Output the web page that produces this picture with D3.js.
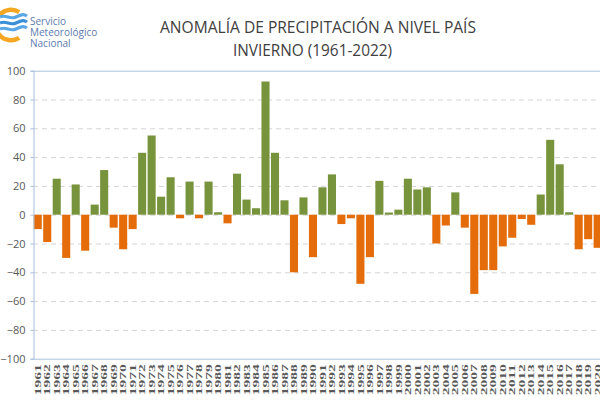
<!DOCTYPE html>
<html>
<head>
<meta charset="utf-8">
<script src="https://cdn.jsdelivr.net/npm/d3@7"></script>
<style>
  html, body { margin: 0; padding: 0; background: #fff; overflow: hidden; }
  svg { display: block; }
</style>
</head>
<body>
<svg id="chart" width="600" height="400"></svg>
<script>
// ---- Data ----
const years = d3.range(1961, 2023).map(String);
// anomaly values (%); 2021 and 2022 fall outside the visible frame
const anomalies = [
  -10, -19, 25, -30, 21, -25, 7, 31, -9, -24,
  -10, 43, 55, 12.5, 26, -2.5, 23, -2.5, 23, 1.7,
  -6, 28.5, 10.5, 4.5, 92.5, 43, 10, -40, 12, -29.5,
  19, 28, -6.5, -2.5, -48, -29.5, 23.5, 1.5, 3.5, 25,
  17.5, 19, -20, -7.5, 15.5, -9, -55, -38.5, -38.5, -22,
  -16, -3, -7, 14, 52, 35, 1.7, -24, -17, -23,
  null, null
];
const yTicks = [100, 80, 60, 40, 20, 0, -20, -40, -60, -80, -100];
const titleLines = ["ANOMALÍA DE PRECIPITACIÓN A NIVEL PAÍS", "INVIERNO (1961-2022)"];
const logoLines = ["Servicio", "Meteorológico", "Nacional"];

const data = years.map((y, i) => ({ year: y, value: anomalies[i] }));

(function () {
// ---- Layout ----
const svg = d3.select("#chart");
const plotLeft = 33, plotTop = 70.7, plotBottom = 358.7;
const step = 9.49;
const plotRight = plotLeft + step * years.length;

const x = d3.scaleBand().domain(years).range([plotLeft, plotRight]).paddingInner(0.15).paddingOuter(0.075);
const y = d3.scaleLinear().domain([-100, 100]).range([plotBottom, plotTop]);

const GREEN = "#77933C", ORANGE = "#E46C0A";
const AXIS = "#A9BEDA";

// gridlines
svg.append("g").selectAll("line")
  .data(yTicks.filter(t => t !== 100 && t !== -100))
  .join("line")
  .attr("x1", plotLeft).attr("x2", 600)
  .attr("y1", d => y(d) + 0.5).attr("y2", d => y(d) + 0.5)
  .attr("stroke", "#D4D4D4").attr("stroke-width", 1)
  .attr("stroke-dasharray", "5,4");

// top and bottom frame lines
svg.append("g").selectAll("line")
  .data([100, -100])
  .join("line")
  .attr("x1", plotLeft).attr("x2", 600)
  .attr("y1", d => y(d) + 0.5).attr("y2", d => y(d) + 0.5)
  .attr("stroke", AXIS).attr("stroke-width", 1);

// bars
svg.append("g").selectAll("rect")
  .data(data.filter(d => d.value !== null))
  .join("rect")
  .attr("x", d => x(d.year))
  .attr("width", x.bandwidth())
  .attr("y", d => y(Math.max(0, d.value)))
  .attr("height", d => Math.abs(y(d.value) - y(0)))
  .attr("fill", d => d.value >= 0 ? GREEN : ORANGE);

// y axis
const yAxis = svg.append("g")
  .attr("transform", `translate(${plotLeft + 0.5},0)`)
  .call(d3.axisLeft(y).tickValues(yTicks).tickSize(3).tickPadding(5).tickFormat(d3.format("d")));
yAxis.select(".domain").attr("stroke", AXIS);
yAxis.selectAll(".tick line").attr("stroke", AXIS);
yAxis.selectAll(".tick text")
  .attr("fill", "#595959")
  .style("font-family", "'Open Sans', 'Liberation Sans', sans-serif")
  .style("font-size", "11px");

// x axis labels (rotated)
const xAxis = svg.append("g")
  .attr("transform", `translate(0,${plotBottom + 0.5})`)
  .call(d3.axisBottom(x).tickSize(0).tickPadding(0));
xAxis.select(".domain").remove();
xAxis.selectAll(".tick text")
  .attr("transform", "translate(0,5) rotate(-90)")
  .attr("x", 0).attr("y", 0).attr("dy", "0.35em")
  .attr("text-anchor", "end")
  .attr("textLength", 31)
  .attr("lengthAdjust", "spacingAndGlyphs")
  .attr("fill", "#595959")
  .style("font-family", "'Liberation Serif', serif")
  .style("font-weight", "bold")
  .style("font-size", "9px");

// title
svg.append("text").attr("x", 160).attr("y", 33)
  .attr("textLength", 316).attr("lengthAdjust", "spacingAndGlyphs")
  .attr("fill", "#404040")
  .style("font-family", "'Open Sans', 'Liberation Sans', sans-serif")
  .style("font-size", "17px")
  .text(titleLines[0]);
svg.append("text").attr("x", 233).attr("y", 56)
  .attr("textLength", 159).attr("lengthAdjust", "spacingAndGlyphs")
  .attr("fill", "#404040")
  .style("font-family", "'Open Sans', 'Liberation Sans', sans-serif")
  .style("font-size", "17px")
  .text(titleLines[1]);

// logo
const logo = svg.append("g");
logo.append("path")
  .attr("transform", "translate(11,25)")
  .attr("d", d3.arc()({ innerRadius: 13, outerRadius: 17.5, startAngle: Math.PI * 0.82, endAngle: Math.PI * 2.18 }))
  .attr("fill", "#F5A623");
[17, 23, 29].forEach((yy, i) => {
  logo.append("path")
    .attr("d", `M0,${yy} C6,${yy - 3} 10,${yy + 3} 16,${yy} S24,${yy - 3} 27,${yy - 1}`)
    .attr("fill", "none")
    .attr("stroke", i === 1 ? "#3A8FD6" : "#5AA7E6")
    .attr("stroke-width", 3.2);
});
logo.selectAll("text.logo")
  .data(logoLines)
  .join("text")
  .attr("class", "logo")
  .attr("x", 30)
  .attr("y", (d, i) => 25 + i * 11)
  .attr("fill", "#5C7BAE")
  .style("font-family", "'Open Sans', 'Liberation Sans', sans-serif")
  .style("font-size", "10px")
  .text(d => d);
})();
</script>
</body>
</html>
